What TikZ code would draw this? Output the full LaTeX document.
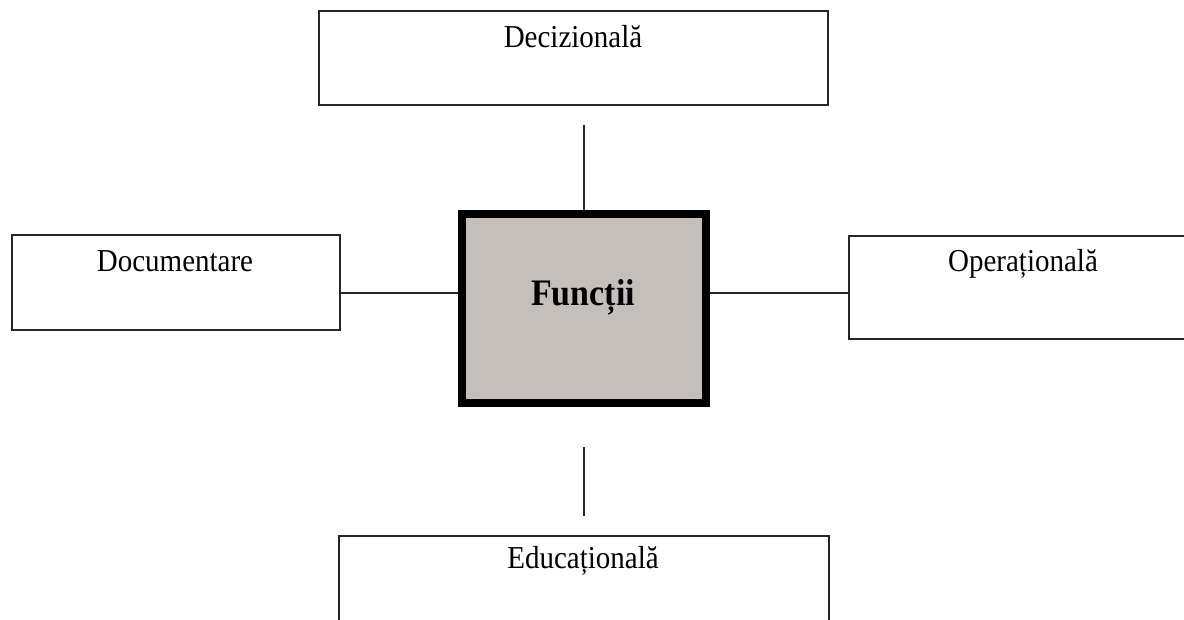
\documentclass[tikz,border=0pt]{standalone}
\usepackage{fontspec}
\usepackage{graphicx}
\setmainfont{Liberation Serif}
\definecolor{fgray}{HTML}{C4BFBB}
\newcommand{\tallt}[1]{\scalebox{1}[1.1]{#1}}
\begin{document}
\begin{tikzpicture}[x=1pt,y=-1pt,
  box/.style={draw=black!85, line width=2pt, fill=white, inner sep=0pt},
  lbl/.style={anchor=base, inner sep=0pt, font=\fontsize{29}{34}\selectfont},
  conn/.style={draw=black!85, line width=2pt}]
\useasboundingbox (0,0) rectangle (1184,619);
% boxes
\node[box, minimum width=509pt, minimum height=94pt] (D) at (573.5,58) {};
\node[box, minimum width=328pt, minimum height=95pt] (L) at (176,282.5) {};
\node[box, minimum width=362pt, minimum height=103pt] (R) at (1030,287.5) {};
\node[box, minimum width=490pt, minimum height=110pt] (E) at (584,591) {};
\node[draw=black, line width=8pt, fill=fgray, inner sep=0pt, minimum width=244pt, minimum height=189pt] (F) at (584,308.5) {};
% labels
\node[lbl] (tD) at (573,47) {\tallt{Decizională}};
\node[lbl] (tL) at (175,271) {\tallt{Documentare}};
\node[lbl] (tR) at (1023,271) {\tallt{Operațională}};
\node[lbl] (tE) at (583,568) {\tallt{Educațională}};
\node[anchor=base, inner sep=0pt, font=\fontsize{34}{40}\selectfont\bfseries] (tF) at (583,305) {\tallt{Funcții}};
% connectors
\coordinate (h) at (584,293);
\coordinate (t1) at (584,125);
\coordinate (b1) at (584,447);
\coordinate (b2) at (584,516);
\path[conn] (t1) -- (F.north);
\path[conn] (L.east |- h) -- (F.west |- h);
\path[conn] (F.east |- h) -- (R.west |- h);
\path[conn] (b1) -- (b2);
\end{tikzpicture}
\end{document}
